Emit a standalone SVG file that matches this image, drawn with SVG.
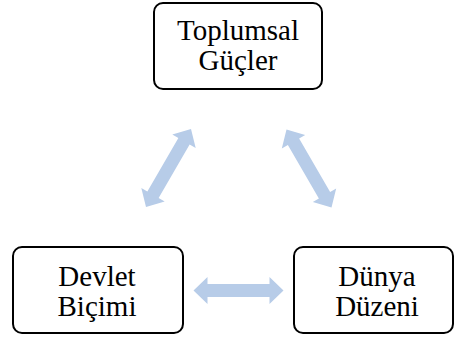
<svg xmlns="http://www.w3.org/2000/svg" xmlns:xlink="http://www.w3.org/1999/xlink" width="456" height="338" viewBox="0 0 456 338">
<style>
.box{fill:#fff;stroke:#000;stroke-width:2}
.arr{fill:#B7CCE8}
</style>
<defs>
<path id="dbl" class="arr" d="M-45,0 L-31,-13.5 L-31,-6.5 L31,-6.5 L31,-13.5 L45,0 L31,13.5 L31,6.5 L-31,6.5 L-31,13.5 Z"/>
</defs>
<rect width="456" height="338" fill="#fff"/>
<g id="connectors">
<use xlink:href="#dbl" transform="translate(238.5,290.5)"/>
<use xlink:href="#dbl" transform="translate(168.5,168) rotate(-60)"/>
<use xlink:href="#dbl" transform="translate(309,168.5) rotate(60)"/>
</g>
<g font-family="Liberation Serif, serif" font-size="29" text-anchor="middle" fill="#000">
<g id="toplumsal">
<rect class="box" x="154" y="3" width="168" height="86" rx="9"/>
<text x="238" y="39.5">Toplumsal</text>
<text x="238" y="69.5">Güçler</text>
</g>
<g id="devlet">
<rect class="box" x="13" y="247" width="170" height="86" rx="9"/>
<text x="97" y="285.5">Devlet</text>
<text x="97" y="315.5">Biçimi</text>
</g>
<g id="dunya">
<rect class="box" x="294" y="247" width="159" height="86" rx="9"/>
<text x="377" y="285.5">Dünya</text>
<text x="377" y="315.5">Düzeni</text>
</g>
</g>
</svg>
